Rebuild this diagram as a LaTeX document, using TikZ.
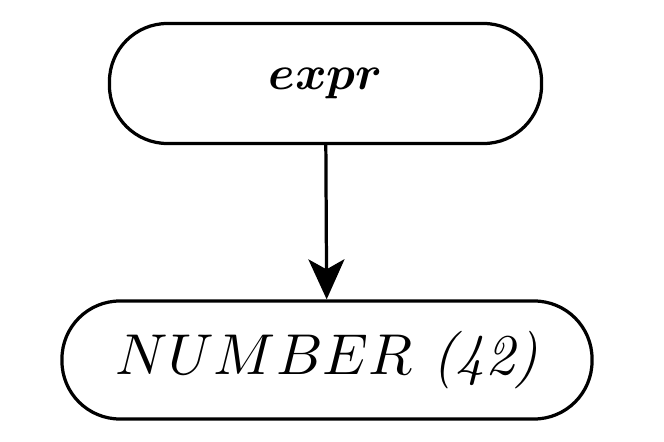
\documentclass[tikz,border=0pt]{standalone}
\usepackage{graphicx}
\usetikzlibrary{arrows.meta}
\begin{document}
\begin{tikzpicture}[term/.style={draw, line width=2.3pt, rounded corners=1.45cm, inner sep=0pt}]
        \useasboundingbox (0,0) rectangle (0.025*664, -0.025*442);
        \node[term, minimum width=10.8cm, minimum height=3.0cm] at (0.025*325.5, -0.025*83.5)  (expr)    {\resizebox{2.85cm}{!}{\boldmath $expr$}};
        \node[term, minimum width=13.25cm, minimum height=2.95cm] at (0.025*327.0, -0.025*360.0)  (number)    {\resizebox{10.55cm}{!}{$NUMBER$ \textit{(42)}}};
        \draw[line width=2.3pt, -{Stealth[length=1cm, width=0.9cm, inset=0.25cm]}]  (expr) -- (number);
    \end{tikzpicture}
\end{document}
